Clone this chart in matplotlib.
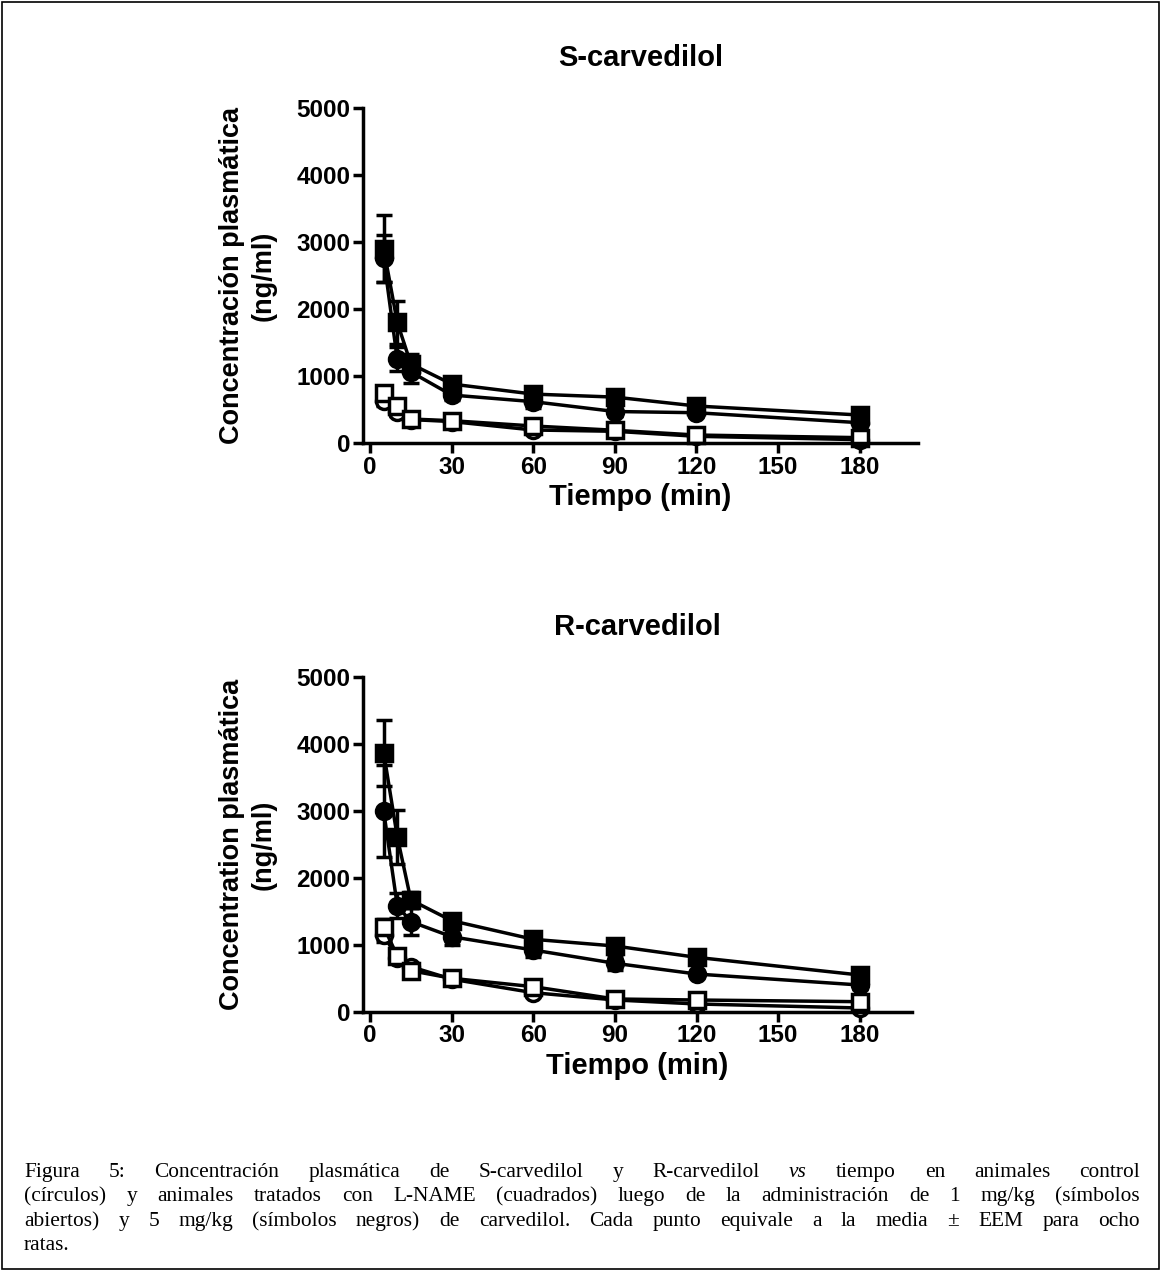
import numpy as np
import matplotlib
matplotlib.use('Agg')
import matplotlib.pyplot as plt
from matplotlib.patches import Rectangle

plt.rcParams['font.family'] = ['Liberation Sans', 'DejaVu Sans']
plt.rcParams['font.weight'] = 'bold'

tiempo = [5, 10, 15, 30, 60, 90, 120, 180]

# S-carvedilol (ng/ml), media y EEM
s_control_5 = [2760, 1250, 1060, 716, 617, 470, 452, 303]
s_control_5_err = [350, 180, 170, 80, 100, 60, 50, 50]
s_lname_5 = [2900, 1800, 1180, 880, 730, 685, 552, 418]
s_lname_5_err = [500, 320, 150, 80, 80, 60, 50, 50]
s_control_1 = [630, 460, 350, 320, 194, 175, 100, 50]
s_control_1_err = [80, 50, 30, 30, 30, 20, 20, 20]
s_lname_1 = [750, 552, 358, 333, 254, 190, 119, 80]
s_lname_1_err = [80, 60, 40, 30, 30, 30, 20, 20]

# R-carvedilol (ng/ml), media y EEM
r_control_5 = [3000, 1587, 1348, 1124, 925, 727, 567, 403]
r_control_5_err = [680, 190, 200, 120, 100, 100, 50, 60]
r_lname_5 = [3870, 2615, 1672, 1363, 1085, 985, 816, 552]
r_lname_5_err = [490, 400, 120, 100, 80, 60, 50, 60]
r_control_1 = [1150, 806, 676, 490, 288, 180, 120, 60]
r_control_1_err = [100, 80, 60, 40, 40, 30, 30, 30]
r_lname_1 = [1273, 836, 617, 503, 378, 194, 179, 154]
r_lname_1_err = [120, 80, 60, 40, 40, 30, 30, 30]

xticks = [0, 30, 60, 90, 120, 150, 180]
yticks = [0, 1000, 2000, 3000, 4000, 5000]

W, H = 1160, 1270
fig = plt.figure(figsize=(W / 100, H / 100), dpi=100)


def panel(rect, title, ylabel, xmax, series):
    ax = fig.add_axes(rect)
    for y, e, mk, fc in series:
        ax.errorbar(tiempo, y, yerr=e, color='black', lw=2.5, marker=mk,
                    ms=12 if mk == 's' else 11.5, mfc=fc, mec='black', mew=2.5,
                    capsize=6, capthick=2.5, elinewidth=2.5, clip_on=False)
    ax.set_xlim(-2.6, xmax)
    ax.set_ylim(0, 5000)
    ax.set_xticks(xticks)
    ax.set_yticks(yticks)
    for s in ['top', 'right']:
        ax.spines[s].set_visible(False)
    for s in ['left', 'bottom']:
        ax.spines[s].set_linewidth(2.5)
    ax.tick_params(direction='out', length=7, width=2.5, labelsize=17.5, pad=2)
    ax.set_title(title, fontsize=21, fontweight='bold', pad=30)
    ax.set_xlabel('Tiempo (min)', fontsize=21, fontweight='bold', labelpad=3)
    ax.set_ylabel(ylabel, fontsize=19.5, fontweight='bold', labelpad=14,
                  multialignment='center', linespacing=1.3)
    return ax


panel([363 / W, 1 - 443 / H, (918 - 363) / W, 335 / H], 'S-carvedilol',
      'Concentración plasmática\n(ng/ml)', 201.5,
      [(s_lname_5, s_lname_5_err, 's', 'black'),
       (s_control_5, s_control_5_err, 'o', 'black'),
       (s_control_1, s_control_1_err, 'o', 'white'),
       (s_lname_1, s_lname_1_err, 's', 'white')])

panel([363 / W, 1 - 1012 / H, (912 - 363) / W, 335 / H], 'R-carvedilol',
      'Concentration plasmática\n(ng/ml)', 199.2,
      [(r_lname_5, r_lname_5_err, 's', 'black'),
       (r_control_5, r_control_5_err, 'o', 'black'),
       (r_control_1, r_control_1_err, 'o', 'white'),
       (r_lname_1, r_lname_1_err, 's', 'white')])

# marco
fig.patches.append(Rectangle((1.5 / W, 1.5 / H), 1 - 3 / W, 1 - 3 / H,
                             transform=fig.transFigure, fill=False,
                             edgecolor='black', lw=1.2))

# leyenda (texto justificado)
caption = [
    [('Figura', 0), ('5:', 0), ('Concentración', 0), ('plasmática', 0), ('de', 0),
     ('S-carvedilol', 0), ('y', 0), ('R-carvedilol', 0), ('vs', 1), ('tiempo', 0),
     ('en', 0), ('animales', 0), ('control', 0)],
    [(w, 0) for w in '(círculos) y animales tratados con L-NAME (cuadrados) luego de la '
     'administración de 1 mg/kg (símbolos'.split()],
    [(w, 0) for w in 'abiertos) y 5 mg/kg (símbolos negros) de carvedilol. Cada punto '
     'equivale a la media ± EEM para ocho'.split()],
    [('ratas.', 0)],
]
line_y = [1177, 1201, 1226, 1250]
x0, x1 = 24, 1140
fig.canvas.draw()
renderer = fig.canvas.get_renderer()
for i, (words, yb) in enumerate(zip(caption, line_y)):
    texts = []
    for w, it in words:
        t = fig.text(0, 1 - yb / H, w, fontsize=15.4, fontweight='normal',
                     family=['Liberation Serif', 'DejaVu Serif'],
                     style='italic' if it else 'normal', va='baseline', ha='left')
        texts.append(t)
    widths = [t.get_window_extent(renderer).width for t in texts]
    if len(texts) > 1 and i < len(caption) - 1:
        gap = (x1 - x0 - sum(widths)) / (len(texts) - 1)
    else:
        gap = 4
    x = x0
    for t, wd in zip(texts, widths):
        t.set_x(x / W)
        x += wd + gap

fig.savefig('out.png', dpi=100)
